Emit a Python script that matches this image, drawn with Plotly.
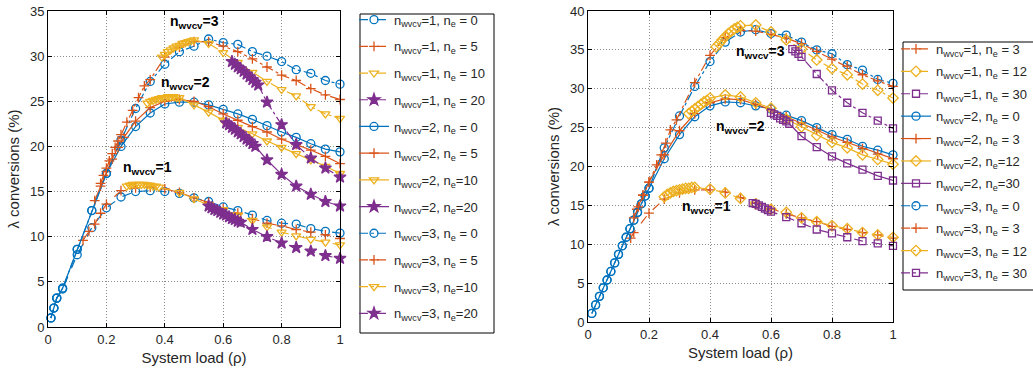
import plotly.graph_objects as go

W, H = 1033, 372
BLUE = '#0072BD'; ORANGE = '#D95319'; YELLOW = '#EDB120'; PURPLE = '#7E2F8E'
FONT = 'Liberation Sans, Arial, sans-serif'

# ---------------- LEFT PANEL DATA ----------------
L_steep_x = [0.01, 0.02, 0.03, 0.05, 0.1, 0.15, 0.2]
L_steep_y = [1.0, 2.1, 3.2, 4.3, 8.6, 12.9, 17.0]

L_n1_e0_x = [0.01, 0.02, 0.03, 0.05, 0.1, 0.15, 0.2, 0.25, 0.3, 0.35, 0.4, 0.45, 0.5, 0.55, 0.6, 0.65, 0.7, 0.75, 0.8, 0.85, 0.9, 0.95, 1.0]
L_n1_e0_y = [1.0, 2.1, 3.2, 4.2, 8.0, 11.0, 13.2, 14.4, 15.0, 15.1, 15.0, 14.8, 14.3, 13.9, 13.3, 12.9, 12.4, 11.8, 11.5, 11.4, 10.9, 10.6, 10.4]
L_n1_e5_x = [0.12, 0.14, 0.16, 0.18, 0.2, 0.25, 0.3, 0.35, 0.4, 0.45, 0.5, 0.55, 0.6, 0.65, 0.7, 0.75, 0.8, 0.85, 0.9, 0.95, 1.0]
L_n1_e5_y = [9.6, 10.6, 11.4, 12.6, 13.6, 15.1, 15.4, 15.5, 15.3, 14.9, 14.3, 13.8, 13.1, 12.6, 12.0, 11.5, 11.2, 10.8, 10.5, 10.2, 9.8]
L_n1_e10_x = [0.27, 0.28, 0.29, 0.30, 0.31, 0.32, 0.33, 0.34, 0.35, 0.36, 0.37, 0.38, 0.45, 0.5, 0.55, 0.6, 0.65, 0.7, 0.75, 0.8, 0.85, 0.9, 0.95, 1.0]
L_n1_e10_y = [15.6, 15.7, 15.8, 15.8, 15.8, 15.8, 15.8, 15.7, 15.7, 15.6, 15.6, 15.5, 14.9, 14.2, 13.5, 13.0, 12.4, 11.8, 11.1, 10.5, 10.1, 9.7, 9.4, 9.1]
L_n1_e20_x = [0.55, 0.56, 0.57, 0.58, 0.59, 0.60, 0.61, 0.62, 0.63, 0.64, 0.65, 0.66, 0.7, 0.75, 0.8, 0.85, 0.9, 0.95, 1.0]
L_n1_e20_y = [13.4, 13.2, 13.0, 12.9, 12.7, 12.5, 12.4, 12.2, 12.0, 11.9, 11.7, 11.6, 10.8, 10.0, 9.3, 8.8, 8.4, 7.9, 7.6]

L_n2_e0_x = [0.25, 0.3, 0.35, 0.4, 0.45, 0.5, 0.55, 0.6, 0.65, 0.7, 0.75, 0.8, 0.85, 0.9, 0.95, 1.0]
L_n2_e0_y = [20.0, 22.2, 23.7, 24.7, 24.9, 24.9, 24.6, 24.1, 23.6, 23.0, 22.3, 21.6, 21.0, 20.3, 19.7, 19.4]
L_n2_e5_x = [0.16, 0.18, 0.2, 0.22, 0.24, 0.26, 0.3, 0.35, 0.4, 0.45, 0.5, 0.55, 0.6, 0.65, 0.7, 0.75, 0.8, 0.85, 0.9, 0.95, 1.0]
L_n2_e5_y = [14.0, 15.6, 17.2, 18.6, 19.9, 21.0, 22.8, 24.3, 25.0, 25.2, 25.0, 24.4, 23.6, 22.9, 22.2, 21.6, 20.8, 20.2, 19.6, 18.9, 18.1]
L_n2_e10_x = [0.34, 0.35, 0.36, 0.37, 0.38, 0.39, 0.40, 0.41, 0.42, 0.43, 0.44, 0.45, 0.5, 0.55, 0.6, 0.65, 0.7, 0.75, 0.8, 0.85, 0.9, 0.95, 1.0]
L_n2_e10_y = [24.8, 25.0, 25.1, 25.2, 25.3, 25.4, 25.4, 25.5, 25.5, 25.5, 25.4, 25.4, 24.6, 23.8, 22.9, 22.1, 21.4, 20.6, 19.9, 19.2, 18.5, 17.8, 17.0]
L_n2_e20_x = [0.61, 0.62, 0.63, 0.64, 0.65, 0.66, 0.67, 0.68, 0.69, 0.70, 0.71, 0.75, 0.8, 0.85, 0.9, 0.95, 1.0]
L_n2_e20_y = [22.6, 22.4, 22.1, 21.9, 21.6, 21.4, 21.1, 20.8, 20.6, 20.3, 20.0, 18.5, 16.9, 15.6, 14.7, 13.9, 13.4]

L_n3_e0_x = [0.25, 0.3, 0.35, 0.4, 0.45, 0.5, 0.55, 0.6, 0.65, 0.7, 0.75, 0.8, 0.85, 0.9, 0.95, 1.0]
L_n3_e0_y = [20.7, 24.2, 27.2, 29.1, 30.5, 31.1, 31.9, 31.5, 31.3, 30.5, 30.0, 29.4, 28.5, 28.1, 27.3, 26.9]
L_n3_e5_x = [0.18, 0.19, 0.2, 0.21, 0.22, 0.23, 0.24, 0.25, 0.27, 0.29, 0.31, 0.33, 0.35, 0.4, 0.45, 0.5, 0.55, 0.6, 0.65, 0.7, 0.75, 0.8, 0.85, 0.9, 0.95, 1.0]
L_n3_e5_y = [15.9, 16.8, 17.6, 18.4, 19.2, 19.9, 20.6, 21.3, 22.7, 24.0, 25.4, 26.7, 27.4, 29.9, 31.0, 31.6, 31.6, 31.1, 30.5, 29.7, 28.8, 27.9, 27.3, 26.4, 25.7, 25.2]
L_n3_e10_x = [0.39, 0.40, 0.41, 0.42, 0.43, 0.44, 0.45, 0.46, 0.47, 0.48, 0.49, 0.50, 0.55, 0.6, 0.65, 0.7, 0.75, 0.8, 0.85, 0.9, 0.95, 1.0]
L_n3_e10_y = [29.9, 30.2, 30.5, 30.7, 30.9, 31.1, 31.2, 31.4, 31.5, 31.6, 31.7, 31.8, 31.4, 30.4, 29.3, 28.2, 27.2, 26.3, 25.6, 24.4, 23.6, 23.1]
L_n3_e20_x = [0.63, 0.64, 0.65, 0.66, 0.67, 0.68, 0.69, 0.70, 0.71, 0.72, 0.75, 0.8, 0.85, 0.9, 0.95, 1.0]
L_n3_e20_y = [29.4, 29.1, 28.8, 28.6, 28.3, 28.0, 27.7, 27.4, 27.1, 26.8, 24.9, 22.4, 20.2, 18.7, 17.6, 16.6]

# ---------------- RIGHT PANEL DATA ----------------
R_steep_x = [0.0125, 0.025, 0.0375, 0.05, 0.0625, 0.075, 0.0875, 0.1, 0.1125, 0.125, 0.1375, 0.15, 0.1625, 0.175, 0.1875, 0.2]
R_steep_y = [1.1, 2.2, 3.3, 4.4, 5.4, 6.5, 7.6, 8.7, 9.8, 10.9, 12.0, 13.1, 14.1, 15.2, 16.2, 17.2]

R_n1_e3_x = [0.14, 0.15, 0.2, 0.25, 0.3, 0.35, 0.4, 0.45, 0.5, 0.55, 0.6, 0.65, 0.7, 0.75, 0.8, 0.85, 0.9, 0.95, 1.0]
R_n1_e3_y = [10.8, 11.5, 14.0, 15.8, 16.6, 17.0, 17.0, 16.7, 16.0, 15.3, 14.5, 13.9, 13.4, 12.9, 12.3, 11.9, 11.5, 11.2, 10.8]
R_n1_e12_x = [0.25, 0.26, 0.27, 0.28, 0.29, 0.30, 0.31, 0.32, 0.33, 0.34, 0.35, 0.4, 0.45, 0.5, 0.55, 0.6, 0.65, 0.7, 0.75, 0.8, 0.85, 0.9, 0.95, 1.0]
R_n1_e12_y = [16.1, 16.4, 16.6, 16.8, 16.9, 17.0, 17.1, 17.2, 17.2, 17.3, 17.3, 17.1, 16.6, 15.9, 15.2, 14.5, 14.1, 13.4, 12.9, 12.4, 12.0, 11.5, 11.2, 10.9]
R_n1_e30_x = [0.54, 0.55, 0.56, 0.57, 0.58, 0.59, 0.60, 0.65, 0.7, 0.75, 0.8, 0.85, 0.9, 0.95, 1.0]
R_n1_e30_y = [15.3, 15.2, 15.0, 14.8, 14.6, 14.4, 14.2, 13.5, 12.7, 11.9, 11.4, 10.9, 10.4, 10.1, 9.8]

R_n2_e0_x = [0.25, 0.3, 0.35, 0.4, 0.45, 0.5, 0.55, 0.6, 0.65, 0.7, 0.75, 0.8, 0.85, 0.9, 0.95, 1.0]
R_n2_e0_y = [21.0, 24.1, 26.4, 27.8, 28.3, 28.2, 27.8, 27.4, 26.6, 25.9, 25.0, 24.1, 23.5, 22.6, 22.1, 21.5]
R_n2_e3_x = [0.16, 0.18, 0.2, 0.25, 0.3, 0.35, 0.4, 0.45, 0.5, 0.55, 0.6, 0.65, 0.7, 0.75, 0.8, 0.85, 0.9, 0.95, 1.0]
R_n2_e3_y = [14.5, 16.3, 18.0, 21.5, 24.6, 26.8, 28.2, 28.7, 28.6, 28.0, 27.3, 26.4, 25.6, 24.7, 23.8, 23.1, 22.3, 21.6, 21.0]
R_n2_e12_x = [0.33, 0.34, 0.35, 0.36, 0.37, 0.38, 0.39, 0.40, 0.45, 0.5, 0.55, 0.6, 0.65, 0.7, 0.75, 0.8, 0.85, 0.9, 0.95, 1.0]
R_n2_e12_y = [26.8, 27.1, 27.4, 27.7, 28.0, 28.3, 28.5, 28.8, 29.2, 28.95, 28.2, 27.5, 26.1, 25.1, 24.0, 23.1, 22.4, 21.5, 20.9, 20.3]
R_n2_e30_x = [0.60, 0.61, 0.62, 0.63, 0.64, 0.65, 0.66, 0.7, 0.75, 0.8, 0.85, 0.9, 0.95, 1.0]
R_n2_e30_y = [26.9, 26.7, 26.5, 26.2, 26.0, 25.8, 25.5, 23.9, 22.5, 21.3, 20.4, 19.6, 18.8, 18.2]

R_n3_e0_x = [0.25, 0.3, 0.35, 0.4, 0.45, 0.5, 0.55, 0.6, 0.65, 0.7, 0.75, 0.8, 0.85, 0.9, 0.95, 1.0]
R_n3_e0_y = [22.4, 26.5, 30.3, 33.5, 36.0, 37.3, 37.6, 37.1, 36.9, 36.0, 35.0, 34.5, 33.1, 32.4, 31.2, 30.7]
R_n3_e3_x = [0.15, 0.165, 0.18, 0.2, 0.225, 0.24, 0.255, 0.27, 0.29, 0.35, 0.4, 0.45, 0.5, 0.55, 0.6, 0.65, 0.7, 0.75, 0.8, 0.85, 0.9, 0.95, 1.0]
R_n3_e3_y = [13.4, 14.8, 16.3, 18.0, 20.2, 21.5, 23.0, 24.7, 26.0, 30.8, 34.3, 36.6, 37.5, 37.4, 37.0, 36.5, 35.8, 34.8, 33.8, 32.9, 31.8, 31.0, 30.3]
R_n3_e12_x = [0.42, 0.43, 0.44, 0.45, 0.46, 0.47, 0.48, 0.49, 0.50, 0.55, 0.6, 0.65, 0.7, 0.75, 0.8, 0.85, 0.9, 0.95, 1.0]
R_n3_e12_y = [35.4, 35.8, 36.3, 36.7, 37.1, 37.4, 37.7, 37.9, 38.1, 38.2, 37.3, 36.3, 35.1, 33.7, 32.6, 31.8, 30.6, 29.8, 28.8]
R_n3_e30_x = [0.67, 0.68, 0.69, 0.70, 0.75, 0.8, 0.85, 0.9, 0.95, 1.0]
R_n3_e30_y = [35.1, 34.8, 34.5, 34.1, 31.9, 29.8, 28.2, 26.9, 25.9, 24.9]

def lab(n, e):
    return 'n<sub>wvcv</sub>=%s, n<sub>e</sub>%s' % (n, e)

left_series = [
    (lab(1, ' = 0'), L_n1_e0_x, L_n1_e0_y, BLUE, 'circle-open', 'dash'),
    (lab(1, ' = 5'), L_n1_e5_x, L_n1_e5_y, ORANGE, 'cross-thin-open', 'dash'),
    (lab(1, ' = 10'), L_n1_e10_x, L_n1_e10_y, YELLOW, 'triangle-down-open', 'dash'),
    (lab(1, ' = 20'), L_n1_e20_x, L_n1_e20_y, PURPLE, 'star', 'dash'),
    (lab(2, ' = 0'), L_steep_x + L_n2_e0_x, L_steep_y + L_n2_e0_y, BLUE, 'circle-open', 'solid'),
    (lab(2, ' = 5'), L_n2_e5_x, L_n2_e5_y, ORANGE, 'cross-thin-open', 'solid'),
    (lab(2, '=10'), L_n2_e10_x, L_n2_e10_y, YELLOW, 'triangle-down-open', 'solid'),
    (lab(2, '=20'), L_n2_e20_x, L_n2_e20_y, PURPLE, 'star', 'solid'),
    (lab(3, ' = 0'), L_steep_x + L_n3_e0_x, L_steep_y + L_n3_e0_y, BLUE, 'circle-open', 'dashdot'),
    (lab(3, ' = 5'), L_n3_e5_x, L_n3_e5_y, ORANGE, 'cross-thin-open', 'dashdot'),
    (lab(3, '=10'), L_n3_e10_x, L_n3_e10_y, YELLOW, 'triangle-down-open', 'dashdot'),
    (lab(3, '=20'), L_n3_e20_x, L_n3_e20_y, PURPLE, 'star', 'dashdot'),
]
right_series = [
    (lab(1, ' = 3'), R_n1_e3_x, R_n1_e3_y, ORANGE, 'cross-thin-open', 'dash'),
    (lab(1, ' = 12'), R_n1_e12_x, R_n1_e12_y, YELLOW, 'diamond-open', 'dash'),
    (lab(1, ' = 30'), R_n1_e30_x, R_n1_e30_y, PURPLE, 'square-open', 'dash'),
    (lab(2, ' = 0'), R_steep_x + R_n2_e0_x, R_steep_y + R_n2_e0_y, BLUE, 'circle-open', 'solid'),
    (lab(2, ' = 3'), R_n2_e3_x, R_n2_e3_y, ORANGE, 'cross-thin-open', 'solid'),
    (lab(2, '=12'), R_n2_e12_x, R_n2_e12_y, YELLOW, 'diamond-open', 'solid'),
    (lab(2, '=30'), R_n2_e30_x, R_n2_e30_y, PURPLE, 'square-open', 'solid'),
    (lab(3, ' = 0'), R_steep_x + R_n3_e0_x, R_steep_y + R_n3_e0_y, BLUE, 'circle-open', 'dashdot'),
    (lab(3, ' = 3'), R_n3_e3_x, R_n3_e3_y, ORANGE, 'cross-thin-open', 'dashdot'),
    (lab(3, ' = 12'), R_n3_e12_x, R_n3_e12_y, YELLOW, 'diamond-open', 'dashdot'),
    (lab(3, ' = 30'), R_n3_e30_x, R_n3_e30_y, PURPLE, 'square-open', 'dashdot'),
]

SIZES = {'circle-open': 8, 'cross-thin-open': 7, 'triangle-down-open': 8, 'star': 9,
         'diamond-open': 8, 'square-open': 7}

fig = go.Figure()
for i, (name, x, y, c, sym, dash) in enumerate(left_series):
    fig.add_trace(go.Scatter(x=x, y=y, name=name, mode='lines+markers', xaxis='x', yaxis='y',
                             legend='legend', legendgroup='L%d' % i, cliponaxis=False,
                             line=dict(color=c, width=1.2, dash=dash),
                             marker=dict(symbol=sym, size=SIZES[sym], color=c,
                                         line=dict(color=c, width=1.3))))
for i, (name, x, y, c, sym, dash) in enumerate(right_series):
    fig.add_trace(go.Scatter(x=x, y=y, name=name, mode='lines+markers', xaxis='x2', yaxis='y2',
                             legend='legend2', legendgroup='R%d' % i, cliponaxis=False,
                             line=dict(color=c, width=1.2, dash=dash),
                             marker=dict(symbol=sym, size=SIZES[sym], color=c,
                                         line=dict(color=c, width=1.3))))

GRID = dict(showgrid=True, gridcolor='#8c8c8c', griddash='1px,2px', gridwidth=1)

def xax(domain, anchor):
    return dict(domain=domain, anchor=anchor, range=[0, 1], tickvals=[0, 0.2, 0.4, 0.6, 0.8, 1],
                ticktext=['0', '0.2', '0.4', '0.6', '0.8', '1'], zeroline=False, showline=True,
                linecolor='black', linewidth=1, mirror='ticks', ticks='inside', ticklen=4,
                tickcolor='black', tickfont=dict(size=13, color='#262626', family=FONT),
                title=dict(text='System load (ρ)', font=dict(size=15, color='#262626', family=FONT), standoff=6),
                **GRID)

def yax(domain, anchor, top):
    return dict(domain=domain, anchor=anchor, range=[0, top], dtick=5, zeroline=False, showline=True,
                linecolor='black', linewidth=1, mirror='ticks', ticks='inside', ticklen=4,
                tickcolor='black', tickfont=dict(size=13, color='#262626', family=FONT),
                title=dict(text='λ conversions (%)', font=dict(size=15, color='#262626', family=FONT), standoff=6),
                **GRID)

leg_common = dict(xanchor='left', yanchor='top', borderwidth=0, bgcolor='rgba(0,0,0,0)',
                  font=dict(size=13, color='#262626', family=FONT), itemwidth=30, traceorder='grouped')

fig.update_layout(
    width=W, height=H, margin=dict(l=0, r=0, t=0, b=0, autoexpand=False),
    paper_bgcolor='white', plot_bgcolor='white', font=dict(family=FONT),
    xaxis=xax([48 / W, 340 / W], 'y'),
    yaxis=yax([1 - 327 / H, 1 - 11 / H], 'x', 35),
    xaxis2=xax([588 / W, 893 / W], 'y2'),
    yaxis2=yax([1 - 322 / H, 1 - 11 / H], 'x2', 40),
    legend=dict(x=354 / W, y=1 - 4.7 / H, tracegroupgap=6.8, **leg_common),
    legend2=dict(x=896 / W, y=1 - 34 / H, tracegroupgap=2.5, **leg_common),
    showlegend=True,
)

# legend frames
fig.add_shape(type='rect', xref='paper', yref='paper', x0=360 / W, x1=494 / W, y0=1 - 333 / H, y1=1 - 14 / H,
              line=dict(color='black', width=1), fillcolor='rgba(0,0,0,0)', layer='below')
fig.add_shape(type='rect', xref='paper', yref='paper', x0=903 / W, x1=1.02, y0=1 - 290 / H, y1=1 - 42 / H,
              line=dict(color='black', width=1), fillcolor='rgba(0,0,0,0)', layer='below')

ann_font = dict(size=14, color='black', family=FONT)
annots = [
    ('x', 'y', 0.50, 33.8, '<b>n<sub>wvcv</sub>=3</b>'),
    ('x', 'y', 0.47, 27.0, '<b>n<sub>wvcv</sub>=2</b>'),
    ('x', 'y', 0.34, 17.6, '<b>n<sub>wvcv</sub>=1</b>'),
    ('x2', 'y2', 0.565, 34.7, '<b>n<sub>wvcv</sub>=3</b>'),
    ('x2', 'y2', 0.50, 25.1, '<b>n<sub>wvcv</sub>=2</b>'),
    ('x2', 'y2', 0.39, 14.8, '<b>n<sub>wvcv</sub>=1</b>'),
]
for xr, yr, ax_, ay_, t in annots:
    fig.add_annotation(x=ax_, y=ay_, xref=xr, yref=yr, text=t, showarrow=False, font=ann_font)

fig.write_html('out.html', config={'displayModeBar': False},
               post_script="document.body.style.margin='0px';")
